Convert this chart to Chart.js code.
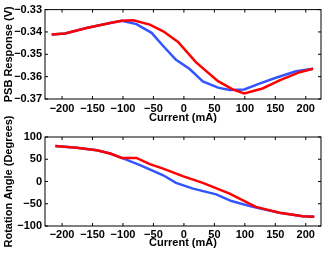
<!DOCTYPE html>
<html>
<head>
<meta charset="utf-8">
<script src="https://cdn.jsdelivr.net/npm/chart.js@4.4.0/dist/chart.umd.min.js"></script>
<style>
  html, body { margin: 0; padding: 0; background: #fff; }
  #wrap { position: relative; width: 326px; height: 253px; }
  canvas { position: absolute; left: 0; }
  #cTop { top: 0; }
  #cBot { top: 105px; }
</style>
</head>
<body>
<div id="wrap">
  <canvas id="cTop" width="326" height="125"></canvas>
  <canvas id="cBot" width="326" height="148"></canvas>
</div>
<script>
// ---- datos ----
const xTicks = [-200, -150, -100, -50, 0, 50, 100, 150, 200];
const psbTicks = [-0.37, -0.36, -0.35, -0.34, -0.33];
const angleTicks = [-100, -50, 0, 50, 100];

// PSB response (top)
const psbCurrentBlue = [-217, -195, -160, -121, -102, -78, -53, -34, -13, 9, 31, 56, 75, 99, 124, 151, 184, 212];
const psbBlue = [-0.3411, -0.3407, -0.3382, -0.3360, -0.3350, -0.3365, -0.3404, -0.3463, -0.3525, -0.3565, -0.3621, -0.3649, -0.3660, -0.3657, -0.3631, -0.3605, -0.3576, -0.3565];
const psbCurrentRed = [-217, -195, -160, -121, -102, -83, -56, -34, -10, 20, 56, 80, 99, 129, 157, 190, 212];
const psbRed = [-0.3411, -0.3407, -0.3382, -0.3360, -0.3350, -0.3348, -0.3367, -0.3397, -0.3444, -0.3536, -0.3620, -0.3657, -0.3675, -0.3653, -0.3617, -0.3580, -0.3565];

// Rotation angle (bottom)
const angleCurrentBlue = [-211, -176, -143, -121, -102, -72, -34, -13, 15, 53, 78, 113, 157, 195, 214];
const angleBlue = [80, 76, 70, 63, 53, 37, 14, -3, -16, -29, -44, -57, -70, -78, -79];
const angleCurrentRed = [-211, -176, -143, -121, -102, -78, -56, -34, -2, 31, 75, 118, 157, 195, 214];
const angleRed = [80, 76, 70, 63, 53, 53, 39, 29, 12, -3, -27, -57, -70, -78, -79];

const RED = "#ff0000";
const BLUE = "#3355ff";
const font = { family: "Liberation Sans, Arial, sans-serif", size: 11, weight: "bold" };

function puntos(xs, ys) {
  return xs.map((x, i) => ({ x, y: ys[i] }));
}
function menos(v) {
  return String(v).replace("-", "\u2212");
}

// marco y marcas interiores estilo Matlab
const marco = {
  id: "marco",
  afterDraw(chart) {
    const { ctx, chartArea: a, scales } = chart;
    ctx.save();
    ctx.strokeStyle = "#000";
    ctx.lineWidth = 1;
    ctx.strokeRect(a.left, a.top, a.right - a.left, a.bottom - a.top);
    ctx.beginPath();
    scales.x.ticks.forEach(t => {
      const px = scales.x.getPixelForValue(t.value);
      ctx.moveTo(px, a.bottom); ctx.lineTo(px, a.bottom - 3);
      ctx.moveTo(px, a.top); ctx.lineTo(px, a.top + 3);
    });
    scales.y.ticks.forEach(t => {
      const py = scales.y.getPixelForValue(t.value);
      ctx.moveTo(a.left, py); ctx.lineTo(a.left + 3, py);
      ctx.moveTo(a.right, py); ctx.lineTo(a.right - 3, py);
    });
    ctx.stroke();
    ctx.restore();
  }
};

function hacerGrafica(id, series, yTicks, yTitle, yFmt, opts) {
  return new Chart(document.getElementById(id), {
    type: "line",
    data: {
      datasets: series.map(s => ({
        data: s.data,
        borderColor: s.color,
        borderWidth: 2.5,
        pointRadius: 0,
        tension: 0,
        fill: false,
        order: s.order
      }))
    },
    options: {
      responsive: false,
      animation: false,
      devicePixelRatio: 1,
      layout: { padding: { top: opts.top, right: 5, left: 0, bottom: 0 } },
      plugins: { legend: { display: false }, tooltip: { enabled: false } },
      scales: {
        x: {
          type: "linear",
          min: -228,
          max: 225,
          afterBuildTicks: s => { s.ticks = xTicks.map(v => ({ value: v })); },
          afterFit: s => { s.height = opts.xh; },
          grid: { display: false, drawTicks: false },
          border: { display: false },
          ticks: { color: "#000", font, padding: opts.tickPad, maxRotation: 0, callback: v => menos(v) },
          title: { display: true, text: "Current (mA)", color: "#000", font, padding: { top: 0, bottom: opts.titlePad } }
        },
        y: {
          type: "linear",
          min: yTicks[0],
          max: yTicks[yTicks.length - 1],
          afterBuildTicks: s => { s.ticks = yTicks.map(v => ({ value: v })); },
          afterFit: s => { s.width = 45; },
          grid: { display: false, drawTicks: false },
          border: { display: false },
          ticks: { color: "#000", font, padding: 3, callback: v => yFmt(v) },
          title: { display: true, text: yTitle, color: "#000", font, padding: { top: 2, bottom: 0 } }
        }
      }
    },
    plugins: [marco]
  });
}

hacerGrafica("cTop", [
  { data: puntos(psbCurrentRed, psbRed), color: RED, order: 0 },
  { data: puntos(psbCurrentBlue, psbBlue), color: BLUE, order: 1 }
], psbTicks, "PSB Response (V)", v => menos(v.toFixed(2)),
  { top: 8, xh: 26, tickPad: 3, titlePad: 0 });

hacerGrafica("cBot", [
  { data: puntos(angleCurrentRed, angleRed), color: RED, order: 0 },
  { data: puntos(angleCurrentBlue, angleBlue), color: BLUE, order: 1 }
], angleTicks, "Rotation Angle (Degrees)", v => menos(v),
  { top: 32, xh: 27, tickPad: 2, titlePad: 3 });
</script>
</body>
</html>
